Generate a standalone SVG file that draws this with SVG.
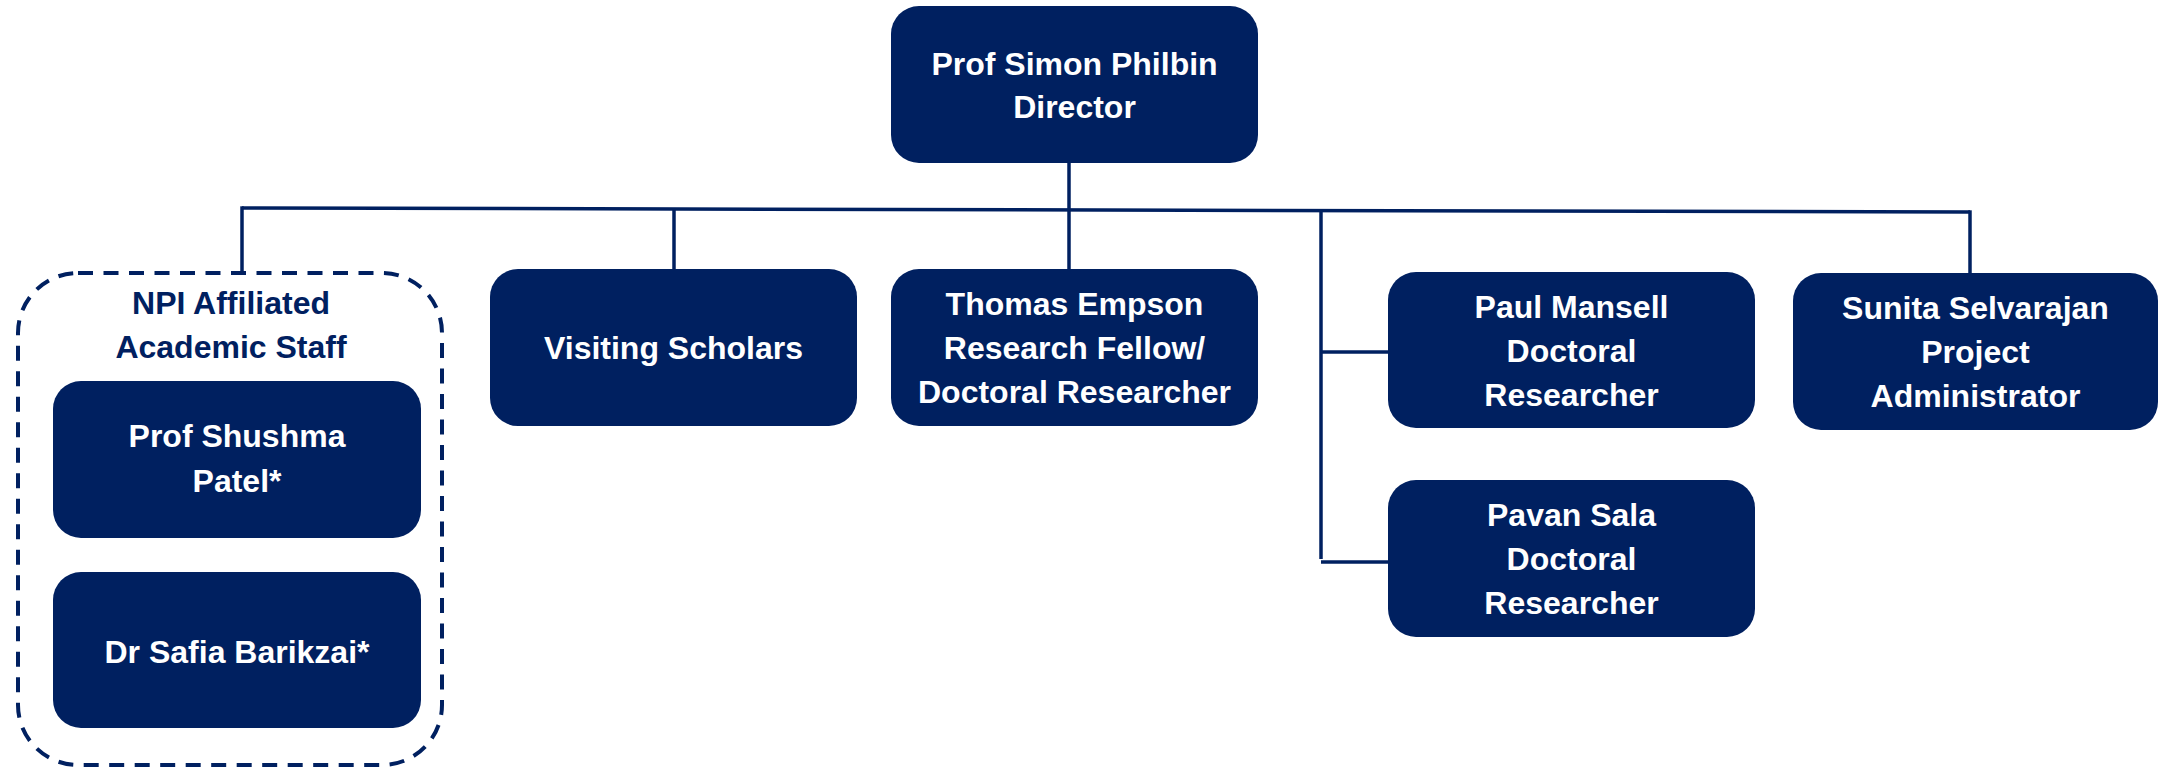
<svg xmlns="http://www.w3.org/2000/svg" width="2159" height="767" viewBox="0 0 2159 767">
<style>
.box{fill:#002060;}
.t{font-family:"Liberation Sans",Arial,sans-serif;font-weight:bold;font-size:32px;fill:#ffffff;text-anchor:middle;}
.tl{font-family:"Liberation Sans",Arial,sans-serif;font-weight:bold;font-size:32px;fill:#002060;text-anchor:middle;}
.c{stroke:#002060;stroke-width:3.5;fill:none;}
.dash{stroke:#002060;stroke-width:4;fill:none;stroke-dasharray:15 10.5;}
</style>
<rect width="2159" height="767" fill="#ffffff"/>
<g id="connectors">
<line class="c" x1="1069" y1="163" x2="1069" y2="269"/>
<line class="c" x1="242" y1="208" x2="1970" y2="212"/>
<line class="c" x1="242" y1="206.3" x2="242" y2="273"/>
<line class="c" x1="674" y1="208" x2="674" y2="269"/>
<line class="c" x1="1321" y1="210" x2="1321" y2="559"/>
<line class="c" x1="1321" y1="352" x2="1388" y2="352"/>
<line class="c" x1="1321" y1="562" x2="1388" y2="562"/>
<line class="c" x1="1970" y1="210.3" x2="1970" y2="273"/>
</g>
<g id="director">
<rect class="box" x="891" y="6" width="367" height="157" rx="28"/>
<text class="t" x="1074.5" y="75">Prof Simon Philbin</text>
<text class="t" x="1074.5" y="118">Director</text>
</g>
<g id="npi-affiliated">
<rect class="dash" x="18" y="273" width="424" height="492" rx="60"/>
<text class="tl" x="231" y="314">NPI Affiliated</text>
<text class="tl" x="231" y="358">Academic Staff</text>
</g>
<g id="shushma-patel">
<rect class="box" x="53" y="381" width="368" height="157" rx="28"/>
<text class="t" x="237" y="447">Prof Shushma</text>
<text class="t" x="237" y="492">Patel*</text>
</g>
<g id="safia-barikzai">
<rect class="box" x="53" y="572" width="368" height="156" rx="28"/>
<text class="t" x="237" y="663">Dr Safia Barikzai*</text>
</g>
<g id="visiting-scholars">
<rect class="box" x="490" y="269" width="367" height="157" rx="28"/>
<text class="t" x="673.5" y="359">Visiting Scholars</text>
</g>
<g id="thomas-empson">
<rect class="box" x="891" y="269" width="367" height="157" rx="28"/>
<text class="t" x="1074.5" y="315">Thomas Empson</text>
<text class="t" x="1074.5" y="359">Research Fellow/</text>
<text class="t" x="1074.5" y="403">Doctoral Researcher</text>
</g>
<g id="paul-mansell">
<rect class="box" x="1388" y="272" width="367" height="156" rx="28"/>
<text class="t" x="1571.5" y="318">Paul Mansell</text>
<text class="t" x="1571.5" y="362">Doctoral</text>
<text class="t" x="1571.5" y="406">Researcher</text>
</g>
<g id="pavan-sala">
<rect class="box" x="1388" y="480" width="367" height="157" rx="28"/>
<text class="t" x="1571.5" y="526">Pavan Sala</text>
<text class="t" x="1571.5" y="570">Doctoral</text>
<text class="t" x="1571.5" y="614">Researcher</text>
</g>
<g id="sunita-selvarajan">
<rect class="box" x="1793" y="273" width="365" height="157" rx="28"/>
<text class="t" x="1975.5" y="319">Sunita Selvarajan</text>
<text class="t" x="1975.5" y="363">Project</text>
<text class="t" x="1975.5" y="407">Administrator</text>
</g>
</svg>
